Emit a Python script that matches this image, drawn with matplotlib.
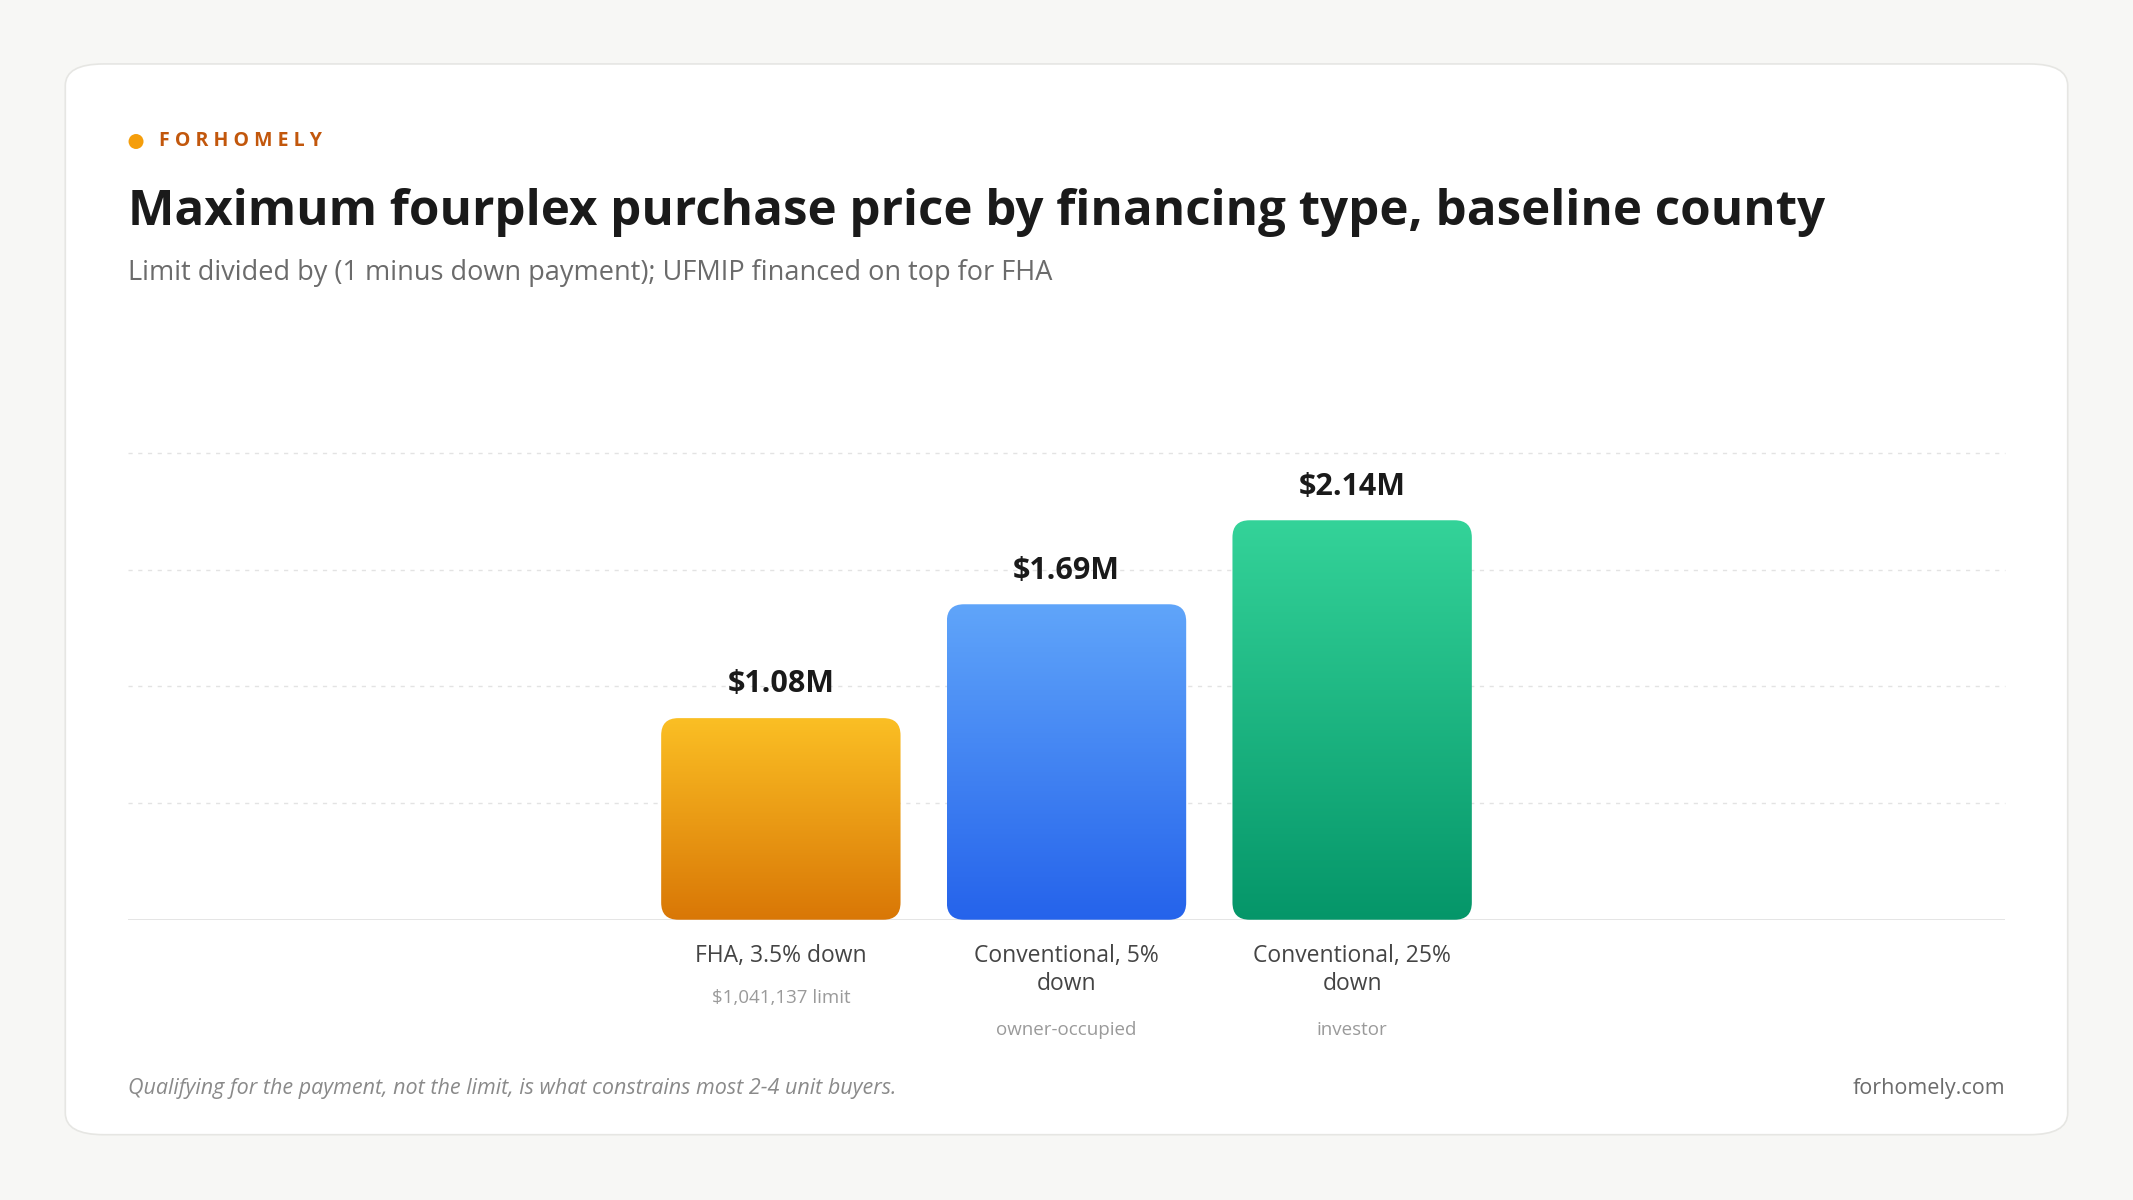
import matplotlib.pyplot as plt
import matplotlib.colors as mc
import numpy as np
from matplotlib.patches import FancyBboxPatch, Ellipse

categories = ["FHA, 3.5% down", "Conventional, 5%\ndown", "Conventional, 25%\ndown"]
sublabels = ["$1,041,137 limit", "owner-occupied", "investor"]
values = [1.08, 1.69, 2.14]  # $M
value_labels = ["$1.08M", "$1.69M", "$2.14M"]
grad_top = ["#fbbf24", "#60a5fa", "#34d399"]
grad_bot = ["#d97706", "#2563eb", "#059669"]

W, H = 1568, 882
plt.rcParams["font.family"] = ["Open Sans", "DejaVu Sans"]
fig = plt.figure(figsize=(21.33, 12), dpi=100)
fig.patch.set_facecolor("#f7f7f5")

def fx(x): return x / W
def fy(y): return 1 - y / H

# card
card = FancyBboxPatch((fx(48), fy(834)), fx(1520) - fx(48), fy(47) - fy(834),
                      boxstyle="round,pad=0,rounding_size=0.018", transform=fig.transFigure,
                      facecolor="white", edgecolor="#e6e6e3", linewidth=1.2, zorder=-5)
fig.patches.append(card)

fig.patches.append(Ellipse((fx(100), fy(104)), 11 / W, 11 / H, transform=fig.transFigure,
                           facecolor="#f59e0b", edgecolor="none"))
fig.text(fx(117), fy(104), "F O R H O M E L Y", color="#c2570c", fontsize=14,
         fontweight="bold", va="center")
fig.text(fx(94), fy(156), "Maximum fourplex purchase price by financing type, baseline county",
         fontsize=35.5, fontweight="bold", color="#1a1a1a", va="center")
fig.text(fx(94), fy(201), "Limit divided by (1 minus down payment); UFMIP financed on top for FHA",
         fontsize=19.5, color="#6b6b6b", va="center")
fig.text(fx(94), fy(800), "Qualifying for the payment, not the limit, is what constrains most 2-4 unit buyers.",
         fontsize=15.5, style="italic", color="#8a8a8a", va="center")
fig.text(fx(1474), fy(800), "forhomely.com", fontsize=15.5, color="#6b6b6b", va="center", ha="right")

ax = fig.add_axes([fx(94), fy(676), fx(1474) - fx(94), fy(333) - fy(676)])
ax.set_zorder(2)
ax.set_xlim(-2.286, 4.286)
ax.set_ylim(0, 2.5)
ax.axis("off")
for g in [0.625, 1.25, 1.875, 2.5]:
    ax.axhline(g, color="#e3e3e3", lw=1, ls=(0, (3, 4)), zorder=0, clip_on=False)
ax.axhline(0, color="#e0e0e0", lw=1.2, zorder=1)

bw = 0.838
for i, v in enumerate(values):
    x0 = i - bw / 2
    patch = FancyBboxPatch((x0, 0), bw, v, boxstyle="round,pad=0,rounding_size=0.06",
                           mutation_aspect=2.5 / 343 * 210,
                           facecolor="none", edgecolor="none")
    ax.add_patch(patch)
    c1 = np.array(mc.to_rgb(grad_top[i]))
    c2 = np.array(mc.to_rgb(grad_bot[i]))
    s = np.linspace(0, 1, 256)[:, None]
    img = (c1 * (1 - s) + c2 * s)[:, None, :]
    im = ax.imshow(img, extent=[x0, x0 + bw, 0, v], origin="upper", aspect="auto", zorder=2)
    im.set_clip_path(patch)
    ax.text(i, v + 0.1, value_labels[i], ha="center", va="bottom", fontsize=22,
            fontweight="bold", color="#1a1a1a", clip_on=False)
    ax.text(i, -0.13, categories[i], ha="center", va="top", fontsize=16.5,
            color="#444444", linespacing=1.25, clip_on=False)
    nl = categories[i].count("\n")
    ax.text(i, -0.37 - 0.17 * nl, sublabels[i], ha="center", va="top", fontsize=13.5,
            color="#9a9a9a", clip_on=False)

ax.set_xlim(-2.286, 4.286)
ax.set_ylim(0, 2.5)
fig.savefig("out.png", dpi=100, facecolor=fig.get_facecolor())
